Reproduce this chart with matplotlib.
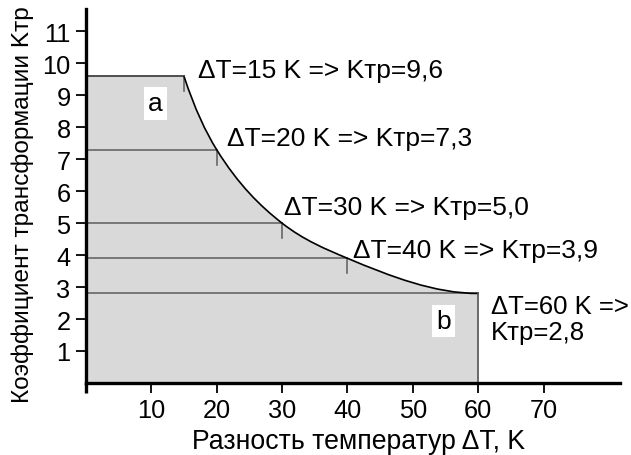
import numpy as np
import matplotlib
matplotlib.use("Agg")
import matplotlib.pyplot as plt
from matplotlib.path import Path
from matplotlib.patches import PathPatch

plt.rcParams['font.family'] = ['Liberation Sans', 'DejaVu Sans']

# Temperature difference (K) and transformation coefficient
delta_t = [15, 20, 30, 40, 60]
k_tr = [9.6, 7.3, 5.0, 3.9, 2.8]
point_labels = ["ΔT=15 K => Kтр=9,6", "ΔT=20 K => Kтр=7,3", "ΔT=30 K => Kтр=5,0",
                "ΔT=40 K => Kтр=3,9", "ΔT=60 K =>\nKтр=2,8"]
x_ticks = [10, 20, 30, 40, 50, 60, 70]
y_ticks = [1, 2, 3, 4, 5, 6, 7, 8, 9, 10, 11]

# Curve slopes (dK/dT) at each point, chosen to keep the boundary convex and flat at the end
slopes = [-0.62, -0.33, -0.16, -0.086, 0.0]

fig = plt.figure(figsize=(6.31, 4.56), dpi=100)
ax = fig.add_axes([0.136, 0.158, 0.847, 0.82])
ax.set_xlim(0, 81.7)
ax.set_ylim(0, 11.7)

x = np.array(delta_t, dtype=float)
y = np.array(k_tr, dtype=float)
m = np.array(slopes, dtype=float)

curve_verts = [(x[0], y[0])]
curve_codes = [Path.MOVETO]
for i in range(len(x) - 1):
    h = x[i + 1] - x[i]
    curve_verts += [(x[i] + h / 3, y[i] + m[i] * h / 3),
                    (x[i + 1] - h / 3, y[i + 1] - m[i + 1] * h / 3),
                    (x[i + 1], y[i + 1])]
    curve_codes += [Path.CURVE4] * 3

# Shaded operating region
fill_verts = [(0, 0), (0, y[0])] + curve_verts + [(x[-1], 0), (0, 0)]
fill_codes = [Path.MOVETO, Path.LINETO, Path.LINETO] + curve_codes[1:] + [Path.LINETO, Path.CLOSEPOLY]
ax.add_patch(PathPatch(Path(fill_verts, fill_codes), facecolor='#d9d9d9', edgecolor='none', zorder=1))

# Boundary curve
ax.add_patch(PathPatch(Path(curve_verts, curve_codes), facecolor='none', edgecolor='black', lw=1.2, zorder=3))

# Top edge and right edge
ax.plot([0, x[0]], [y[0], y[0]], color='#333333', lw=1.2, zorder=3)
ax.plot([x[-1], x[-1]], [0, y[-1]], color='#555555', lw=1.2, zorder=3)

# Horizontal level lines and small markers under the curve points
for xi, yi in zip(x[1:], y[1:]):
    ax.plot([0, xi], [yi, yi], color='#666666', lw=1.2, zorder=2)
for xi, yi in zip(x[:-1], y[:-1]):
    ax.plot([xi, xi], [yi, yi - 0.47], color='#666666', lw=1.2, zorder=2)

# Point annotations
label_pos = [(17.2, 9.78), (21.6, 7.65), (30.3, 5.5), (40.8, 4.17), (61.9, 2.0)]
label_size = [19, 19, 19, 19, 18.5]
for (tx, ty), s, fs in zip(label_pos, point_labels, label_size):
    ax.text(tx, ty, s, fontsize=fs, ha='left', va='center', linespacing=1.15,
            zorder=4, clip_on=False)

# Region markers
box = dict(facecolor='white', edgecolor='none', pad=3)
ax.text(10.6, 8.75, "a", fontsize=19, ha='center', va='center', bbox=box, zorder=4)
ax.text(54.7, 1.94, "b", fontsize=19, ha='center', va='center', bbox=box, zorder=4)

# Axes styling
for side in ('top', 'right'):
    ax.spines[side].set_visible(False)
for side in ('left', 'bottom'):
    ax.spines[side].set_linewidth(2.4)
    ax.spines[side].set_zorder(5)
ax.plot([0, 0], [0, -0.3], color='black', lw=2.4, clip_on=False, solid_capstyle='butt', zorder=5)

ax.set_xticks(x_ticks)
ax.set_yticks(y_ticks)
ax.tick_params(axis='both', direction='out', length=7, width=1.3, labelsize=18.3, pad=4)
ax.set_xlabel("Разность температур ΔT, K", fontsize=19.2)
ax.set_ylabel("Коэффициент трансформации Kтр", fontsize=17.6)
ax.xaxis.set_label_coords(0.51, -0.12)
ax.yaxis.set_label_coords(-0.097, 0.479)

fig.savefig("out.png", dpi=100)
